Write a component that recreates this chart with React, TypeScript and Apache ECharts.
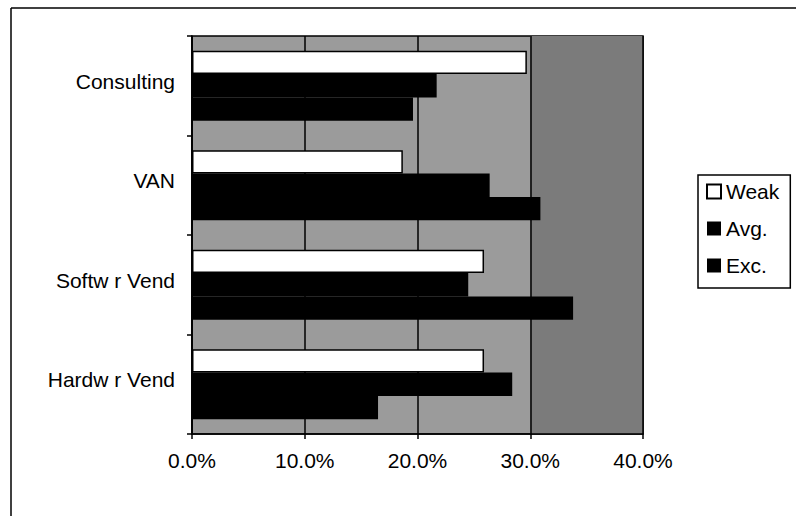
import React, { useEffect, useRef } from "react";
import * as echarts from "echarts";

// Categories from top to bottom
const categories = ["Consulting", "VAN", "Softw r Vend", "Hardw r Vend"];
const seriesNames = ["Weak", "Avg.", "Exc."];

// Percent of respondents per rating
const weakValues = [29.7, 18.7, 25.9, 25.9];
const avgValues = [21.7, 26.4, 24.5, 28.4];
const excValues = [19.6, 30.9, 33.8, 16.5];

const xTicks = { min: 0, max: 40, interval: 10 };
const shadedBand = [30, 40];

const FONT = "Liberation Sans, Arial, sans-serif";

export default function App() {
  const ref = useRef<HTMLDivElement>(null);

  useEffect(() => {
    if (!ref.current) return;
    const chart = echarts.init(ref.current, undefined, { renderer: "svg" });

    chart.setOption({
      animation: false,
      backgroundColor: "#ffffff",
      textStyle: { fontFamily: FONT, color: "#000" },
      grid: {
        left: 192,
        top: 36,
        width: 451,
        height: 398,
        show: true,
        backgroundColor: "#9b9b9b",
        borderColor: "#000",
        borderWidth: 1.5,
        containLabel: false,
      },
      xAxis: {
        type: "value",
        min: xTicks.min,
        max: xTicks.max,
        interval: xTicks.interval,
        z: 1.5,
        axisLine: { show: true, lineStyle: { color: "#000", width: 1.5 } },
        axisTick: { show: true, length: 5, lineStyle: { color: "#000", width: 1.5 } },
        splitLine: { show: true, lineStyle: { color: "#000", width: 1.5 } },
        axisLabel: {
          fontFamily: FONT,
          fontSize: 21,
          color: "#000",
          margin: 16,
          formatter: (v: number) => v.toFixed(1) + "%",
        },
      },
      yAxis: {
        type: "category",
        data: categories,
        inverse: true,
        z: 1.5,
        axisLine: { show: true, lineStyle: { color: "#000", width: 1.5 } },
        axisTick: { show: true, length: 5, lineStyle: { color: "#000", width: 1.5 } },
        axisLabel: {
          fontFamily: FONT,
          fontSize: 21,
          color: "#000",
          margin: 17,
          formatter: (v: string) => "{c|" + v + "}",
          rich: {
            c: { fontFamily: FONT, fontSize: 21, color: "#000", padding: [0, 0, 9, 0] },
          },
        },
      },
      legend: {
        orient: "vertical",
        left: 698,
        top: 175,
        data: seriesNames,
        icon: "rect",
        itemWidth: 14,
        itemHeight: 14,
        itemGap: 16,
        padding: [6, 11, 12, 8],
        borderColor: "#000",
        borderWidth: 1.5,
        backgroundColor: "#fff",
        textStyle: {
          fontFamily: FONT,
          fontSize: 21,
          color: "#000",
        },
      },
      series: [
        {
          type: "line",
          name: "band",
          data: [],
          z: 1,
          silent: true,
          markArea: {
            silent: true,
            itemStyle: { color: "#7b7b7b" },
            data: [[{ xAxis: shadedBand[0] }, { xAxis: shadedBand[1] }]],
          },
        },
        {
          type: "bar",
          name: seriesNames[0],
          data: weakValues,
          z: 3,
          barGap: "0%",
          barCategoryGap: "29.6%",
          itemStyle: { color: "#ffffff", borderColor: "#000", borderWidth: 1.5 },
        },
        {
          type: "bar",
          name: seriesNames[1],
          data: avgValues,
          z: 3,
          itemStyle: { color: "#000000" },
        },
        {
          type: "bar",
          name: seriesNames[2],
          data: excValues,
          z: 3,
          itemStyle: { color: "#000000" },
        },
      ],
      graphic: [
        {
          type: "line",
          shape: { x1: 11, y1: 8, x2: 796, y2: 8 },
          style: { stroke: "#000", lineWidth: 1.5 },
        },
        {
          type: "line",
          shape: { x1: 11, y1: 8, x2: 11, y2: 516 },
          style: { stroke: "#000", lineWidth: 1.5 },
        },
      ],
    });

    return () => chart.dispose();
  }, []);

  return (
    <div
      ref={ref}
      style={{ position: "fixed", left: 0, top: 0, width: 796, height: 516 }}
    />
  );
}
